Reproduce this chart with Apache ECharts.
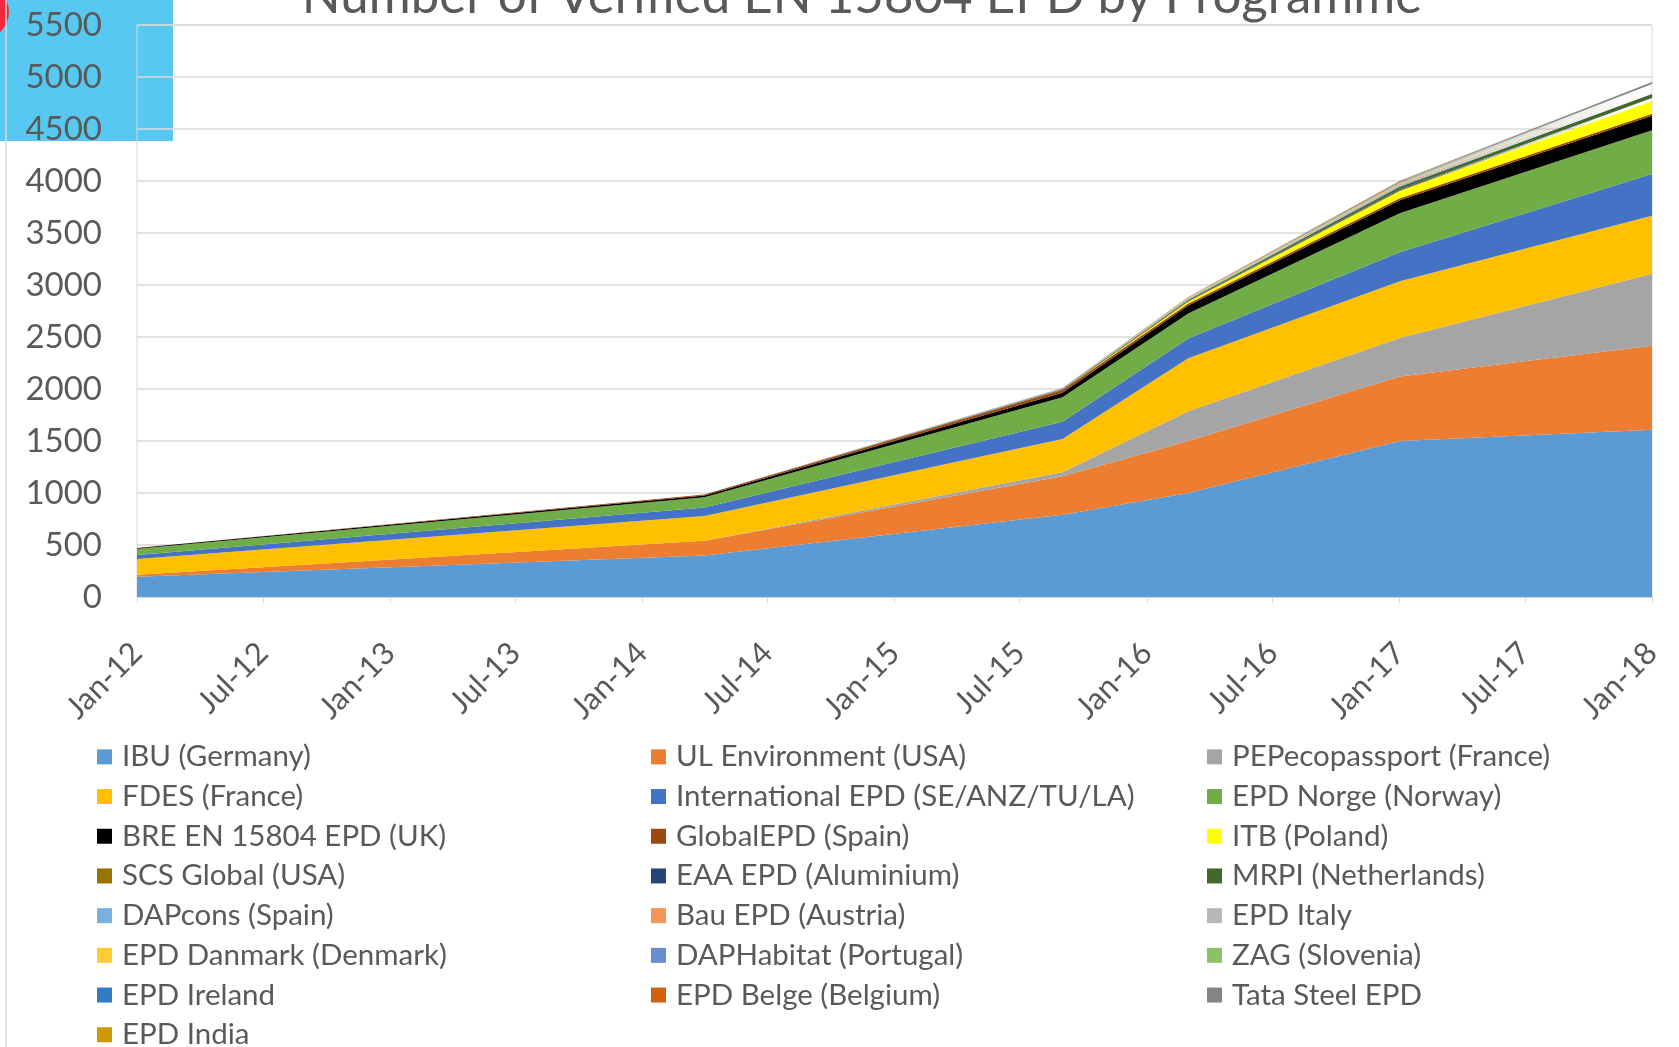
<!DOCTYPE html>
<html><head><meta charset="utf-8">
<script src="https://cdn.jsdelivr.net/npm/echarts@6/dist/echarts.min.js"></script>
<style>html,body{margin:0;padding:0;background:#fff}#c{width:1679px;height:1047px}</style>
</head><body><div id="c"></div>
<script>
// ---- data ----
const dates = ['2012-01-01','2014-04-01','2015-09-01','2016-03-01','2017-01-01','2018-01-01'];
const tickLabels = ['Jan-12','Jul-12','Jan-13','Jul-13','Jan-14','Jul-14','Jan-15','Jul-15','Jan-16','Jul-16','Jan-17','Jul-17','Jan-18'];
const seriesNames = ['IBU (Germany)','UL Environment (USA)','PEPecopassport (France)','FDES (France)','International EPD (SE/ANZ/TU/LA)','EPD Norge (Norway)','BRE EN 15804 EPD (UK)','GlobalEPD (Spain)','ITB (Poland)','SCS Global (USA)','EAA EPD (Aluminium)','MRPI (Netherlands)','DAPcons (Spain)','Bau EPD (Austria)','EPD Italy','EPD Danmark (Denmark)','DAPHabitat (Portugal)','ZAG (Slovenia)','EPD Ireland','EPD Belge (Belgium)','Tata Steel EPD','EPD India'];
const ibu        = [195, 400, 790, 1000, 1500, 1607];
const ul         = [20, 140, 370, 500, 620, 810];
const pep        = [0, 0, 40, 285, 370, 690];
const fdes       = [150, 240, 320, 510, 545, 560];
const intEpd     = [40, 80, 165, 190, 280, 400];
const norge      = [60, 100, 235, 240, 375, 420];
const bre        = [5, 15, 45, 78, 125, 140];
const globalEpd  = [0, 10, 25, 20, 20, 20];
const itb        = [0, 0, 0, 15, 70, 120];
const scs        = [0, 0, 2, 5, 7, 15];
const eaa        = [0, 0, 3, 5, 8, 15];
const mrpi       = [0, 0, 5, 10, 25, 40];
const dapcons    = [0, 0, 2, 5, 10, 15];
const bau        = [0, 0, 2, 4, 8, 15];
const italy      = [0, 0, 1, 3, 7, 15];
const danmark    = [0, 0, 1, 3, 6, 10];
const daphabitat = [0, 0, 1, 2, 5, 10];
const zag        = [0, 0, 1, 2, 5, 10];
const ireland    = [0, 0, 0, 1, 4, 10];
const belge      = [0, 0, 0, 1, 4, 10];
const tata       = [0, 0, 2, 4, 6, 20];
const india      = [0, 0, 0, 1, 3, 10];
const allValues = [ibu, ul, pep, fdes, intEpd, norge, bre, globalEpd, itb, scs, eaa, mrpi, dapcons, bau, italy, danmark, daphabitat, zag, ireland, belge, tata, india];
const colors = ['#5B9BD5','#ED7D31','#A5A5A5','#FFC000','#4472C4','#70AD47','#000000','#9E480E','#FFFF00','#997300','#264478','#43682B','#7CAFDD','#F1975A','#B7B7B7','#FFCD33','#698ED0','#8CC168','#327DC2','#D26012','#848484','#CC9A00'];

// ---- chart ----
const FONT = 'Lato';
const TXT = '#595959';
const chart = echarts.init(document.getElementById('c'), null, {width:1679, height:1047});
const legendCols = [[0,3,6,9,12,15,18,21],[1,4,7,10,13,16,19],[2,5,8,11,14,17,20]];
const legendX = [97, 651, 1207];
const DAY = 86400000;

chart.setOption({
  animation: false,
  backgroundColor: '#ffffff',
  color: colors,
  grid: {left: 137, right: 27, top: 25, bottom: 450, show: true, borderColor: '#d9d9d9', borderWidth: 1},
  xAxis: {
    type: 'time', min: '2012-01-01', max: '2018-01-01',
    minInterval: 180*DAY, maxInterval: 185*DAY,
    splitLine: {show: false},
    axisLine: {show: true, lineStyle: {color: '#d9d9d9', width: 1}},
    axisTick: {show: true, length: 6, lineStyle: {color: '#d9d9d9'}},
    axisLabel: {
      rotate: 45, fontSize: 31, fontFamily: FONT, color: TXT, margin: 51,
      showMinLabel: true, showMaxLabel: true, hideOverlap: false,
      formatter: function (v) {
        const d = new Date(v);
        const idx = Math.round(((d.getFullYear() - 2012) * 12 + d.getMonth()) / 6);
        return tickLabels[idx] || '';
      }
    }
  },
  yAxis: {
    type: 'value', min: 0, max: 5500, interval: 500,
    axisLine: {show: false}, axisTick: {show: false},
    splitLine: {lineStyle: {color: '#d9d9d9', width: 1.5}},
    axisLabel: {fontSize: 33, fontFamily: FONT, color: TXT, margin: 35, formatter: v => String(v)}
  },
  legend: legendCols.map((idx, k) => ({
    orient: 'vertical', left: legendX[k], top: 737, height: 400, padding: 0, itemGap: 0,
    itemWidth: 15, itemHeight: 15, icon: 'rect',
    data: idx.map(i => seriesNames[i]),
    textStyle: {fontFamily: FONT, fontSize: 29.5, color: TXT, lineHeight: 39.7, padding: [0, 0, 0, 5]}
  })),
  graphic: [
    {type: 'rect', shape: {x: 0, y: 0, width: 173, height: 141}, style: {fill: '#57C8F1'}, z: -10},
    {type: 'circle', shape: {cx: -18, cy: 12, r: 27}, style: {fill: '#F0283C'}, z: -9},
    {type: 'line', shape: {x1: 6, y1: 0, x2: 6, y2: 1047}, style: {stroke: '#d9d9d9', lineWidth: 1.5}, z: -8},
    {type: 'text', x: 862, y: -3, z: 5, style: {text: 'Number of Verified EN 15804 EPD by Programme', fontFamily: FONT, fontSize: 51, fill: TXT, align: 'center', verticalAlign: 'middle'}}
  ],
  series: seriesNames.map((n, i) => ({
    name: n, type: 'line', stack: 'total', symbol: 'none', showSymbol: false,
    lineStyle: {width: 0}, itemStyle: {color: colors[i]},
    areaStyle: {color: colors[i], opacity: 1},
    data: dates.map((d, j) => [d, allValues[i][j]])
  }))
});
</script></body></html>
